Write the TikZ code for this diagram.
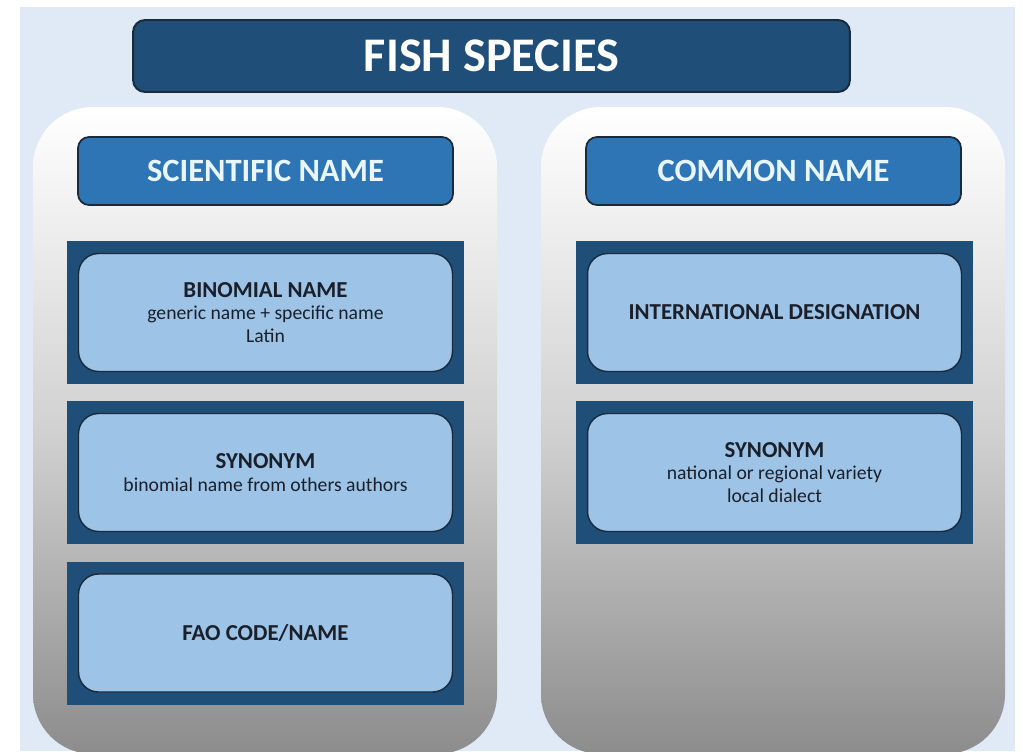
\documentclass[tikz,border=0pt]{standalone}
\usepackage{fontspec}
\setmainfont{Carlito}
\usetikzlibrary{positioning}
\definecolor{panelblue}{HTML}{DFEAF6}
\definecolor{titleblue}{HTML}{1F4E79}
\definecolor{headblue}{HTML}{2E75B6}
\definecolor{frameblue}{HTML}{1F4E79}
\definecolor{itemblue}{HTML}{9DC3E6}
\definecolor{edgedark}{HTML}{1A2A3A}
\definecolor{headtext}{HTML}{EAF6FF}
\definecolor{itemtext}{HTML}{1A1F2A}
\newcommand{\ItemHead}[1]{{\bfseries\fontsize{13}{15}\selectfont #1}}

\begin{document}
\begin{tikzpicture}[
    x=0.02cm, y=-0.02cm,
    column/.style={rounded corners=1.2cm, top color=white, bottom color=black!45, middle color=black!18},
    title/.style={draw=edgedark, line width=1.1pt, fill=titleblue, rounded corners=0.24cm, text=white,
        font=\bfseries\fontsize{27.5}{32}\selectfont, minimum width=14.34cm, minimum height=1.44cm},
    head/.style={draw=edgedark, line width=1pt, fill=headblue, rounded corners=0.22cm, text=headtext,
        font=\bfseries\fontsize{18.5}{22}\selectfont, minimum width=7.5cm, minimum height=1.36cm},
    frame/.style={fill=frameblue, inner sep=0pt, minimum width=7.94cm, minimum height=2.86cm},
    item/.style={draw=edgedark, line width=0.8pt, fill=itemblue, rounded corners=0.4cm, text=itemtext,
        align=center, font=\fontsize{11.2}{13}\selectfont, minimum width=7.48cm, minimum height=2.36cm}
]

% background
\useasboundingbox (0,0) rectangle (1023,751);
\fill[white] (0,0) rectangle (1023,751);
\fill[panelblue] (20,7) rectangle (1015,751);

% columns
\shade[column] (33,107) rectangle (497,754);
\shade[column] (541,107) rectangle (1005,754);

% title
\node[title] (species) at (491.5,56) {FISH SPECIES};

% headings
\node[head] (scientific) at (265.5,171) {SCIENTIFIC NAME};
\node[head] (common) at (773.5,171) {COMMON NAME};

% scientific name entries
\node[frame] (sciA) at (265.5,312.5) {};
\node[frame] (sciB) at (265.5,472.5) {};
\node[frame] (sciC) at (265.5,633) {};
\node[item] (binomial) at (sciA) {\ItemHead{BINOMIAL NAME}\\generic name + specific name\\Latin};
\node[item] (scisynonym) at (sciB) {\ItemHead{SYNONYM}\\binomial name from others authors};
\node[item] (fao) at (sciC) {\ItemHead{FAO CODE/NAME}};

% common name entries
\node[frame] (comA) at (774.5,312.5) {};
\node[frame] (comB) at (774.5,472.5) {};
\node[item] (designation) at (comA) {\raisebox{-3pt}{\ItemHead{INTERNATIONAL DESIGNATION}}};
\node[item] (comsynonym) at (comB) {\ItemHead{SYNONYM}\\national or regional variety\\local dialect};

\end{tikzpicture}
\end{document}
